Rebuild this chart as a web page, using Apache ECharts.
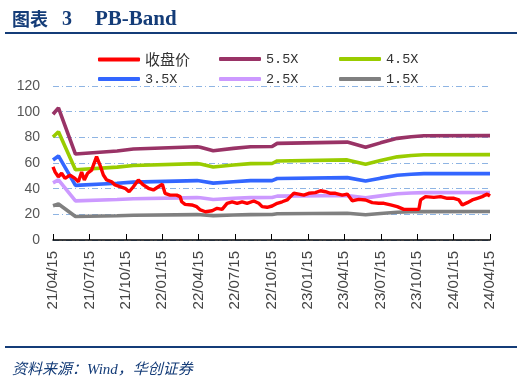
<!DOCTYPE html>
<html><head><meta charset="utf-8">
<script src="https://cdn.jsdelivr.net/npm/echarts@6/dist/echarts.min.js"></script>
<style>html,body{margin:0;padding:0;background:#fff}#c{width:524px;height:381px}</style>
</head><body><div id="c"></div>
<script>
// x positions are months since 2021-04-15
const tickLabels = ['21/04/15','21/07/15','21/10/15','22/01/15','22/04/15','22/07/15','22/10/15','23/01/15','23/04/15','23/07/15','23/10/15','24/01/15','24/04/15'];
const seriesNames = ['收盘价','5.5X','4.5X','3.5X','2.5X','1.5X'];

const priceMonths = [0,0.16,0.44,0.71,0.99,1.40,1.81,2.09,2.36,2.58,2.85,3.18,3.59,3.87,4.15,4.42,4.83,5.11,5.52,5.94,6.27,6.62,7.03,7.44,7.86,8.27,8.68,9.01,9.23,9.65,10.19,10.47,10.60,10.88,11.43,11.84,12.14,12.56,13.11,13.52,13.93,14.34,14.76,15.17,15.58,15.99,16.54,16.95,17.23,17.64,18.05,18.47,18.88,19.29,19.56,19.84,20.25,20.66,21.07,21.62,22.04,22.45,22.86,23.27,23.83,24.24,24.65,25.19,25.75,26.30,26.84,27.26,27.81,28.36,28.90,29.46,30.14,30.28,30.69,31.38,31.93,32.48,33.03,33.44,33.72,34.13,34.54,34.95,35.36,35.77,36];
const priceValues = [57,53.2,49.3,52,48,50.6,48,45.4,53,46.8,52,54.5,65,58.4,50.6,46.8,45.4,42.9,41.5,40.3,37.6,41.5,46.8,42.9,40.3,39,41.5,43.4,36.4,35,35,33.8,29.8,27.8,27.3,26,23.4,22,22.8,24.7,23.9,28.6,29.8,28.6,29.8,28.6,30.4,28.6,26,25.5,26.5,28.6,29.8,31.2,33.8,36.4,35.8,35,36.4,36.9,38.4,37.6,36.4,36.4,35,35.8,30.6,31.7,31.2,29.1,28.6,28.6,27.3,26,23.9,23.9,23.9,31.2,33.8,33.2,33.8,32.5,32.5,31.2,27.3,29.1,31.2,32.5,33.8,35.8,34.3];

const bandMonths = [0,0.45,1.85,5.28,6.62,11.87,12.14,13.2,14.86,16.27,18.05,18.47,24.24,25.75,26.98,28.36,29.5,30.55,36];
const band55 = [98,103,67,69.4,70.9,72.7,72.3,69.6,71.4,72.7,72.8,75.3,76.3,72.2,75.7,79.2,80.5,81.2,81.3];
const band45 = [80.2,84.3,54.8,56.8,58.0,59.5,59.2,56.9,58.4,59.5,59.6,61.6,62.4,59.1,61.9,64.8,65.9,66.4,66.5];
const band35 = [62.4,65.5,42.6,44.2,45.1,46.3,46.0,44.3,45.4,46.3,46.3,47.9,48.6,45.9,48.2,50.4,51.2,51.7,51.7];
const band25 = [44.5,46.8,30.5,31.5,32.2,33.0,32.9,31.6,32.5,33.0,33.1,34.2,34.7,32.8,34.4,36.0,36.6,36.9,37.0];
const band15 = [26.7,28.1,18.3,18.9,19.3,19.8,19.7,19.0,19.5,19.8,19.9,20.5,20.8,19.7,20.6,21.6,22.0,22.1,22.2];

const colors = ['#FF0000','#993366','#99CC00','#3366FF','#CC99FF','#808080'];
const navy = '#143C78';

const zip = (xs, ys) => xs.map((x, i) => [x, ys[i]]);
const bands = [band55, band45, band35, band25, band15];

const series = [{
  name: seriesNames[0], type: 'line', data: zip(priceMonths, priceValues),
  showSymbol: false, z: 5, lineStyle: {width: 3.4, color: colors[0]}, itemStyle: {color: colors[0]}
}].concat(bands.map((b, i) => ({
  name: seriesNames[i + 1], type: 'line', data: zip(bandMonths, b),
  showSymbol: false, z: 2, lineStyle: {width: 3.6, color: colors[i + 1]}, itemStyle: {color: colors[i + 1]}
})));

const legendLefts = [98, 219, 339];
const legends = seriesNames.map((name, i) => ({
  icon: 'roundRect', itemWidth: 42, itemHeight: 4, itemGap: 0, padding: 0,
  left: legendLefts[i % 3], top: i < 3 ? 52 : 72, data: [name],
  textStyle: i === 0
    ? {fontFamily: 'Noto Sans CJK SC', fontSize: 15, color: '#333'}
    : {fontFamily: 'Liberation Mono', fontSize: 13.5, color: '#333'}
}));

const chart = echarts.init(document.getElementById('c'), null, {renderer: 'canvas'});
chart.setOption({
  animation: false,
  backgroundColor: '#fff',
  color: colors,
  title: [{
    text: '{a|图表}{c|3}{b|PB-Band}', left: 7, top: 4,
    textStyle: {rich: {
      a: {fontFamily: 'Noto Sans CJK SC', fontWeight: 'bold', fontSize: 18, color: navy, width: 50},
      c: {fontFamily: 'Liberation Serif', fontWeight: 'bold', fontSize: 20, color: navy, width: 33},
      b: {fontFamily: 'Liberation Serif', fontWeight: 'bold', fontSize: 21, color: navy}
    }}
  }, {
    text: '资料来源：Wind，华创证券', left: 7, top: 358,
    textStyle: {fontFamily: 'Liberation Serif, Noto Sans CJK SC', fontStyle: 'italic', fontWeight: 'normal', fontSize: 15, color: navy}
  }],
  graphic: [
    {type: 'rect', shape: {x: 5, y: 32, width: 512, height: 2}, style: {fill: navy}},
    {type: 'rect', shape: {x: 5, y: 346, width: 512, height: 2}, style: {fill: navy}}
  ],
  legend: legends,
  grid: {left: 53, right: 34, top: 86, bottom: 141},
  xAxis: {
    type: 'value', min: 0, max: 36, interval: 3,
    axisLine: {show: true, lineStyle: {color: '#000', width: 1.5}},
    axisTick: {show: true, inside: true, length: 6, lineStyle: {color: '#000'}},
    splitLine: {show: false},
    axisLabel: {
      rotate: 90, margin: 11, fontSize: 15, color: '#444', fontFamily: 'Liberation Sans',
      showMaxLabel: true, showMinLabel: true,
      formatter: v => tickLabels[Math.round(v / 3)] || ''
    }
  },
  yAxis: {
    type: 'value', min: 0, max: 120, interval: 20,
    axisLine: {show: false}, axisTick: {show: false},
    axisLabel: {fontSize: 14, color: '#555', fontFamily: 'Liberation Sans', margin: 13},
    splitLine: {show: true, lineStyle: {color: '#8EB4E3', width: 1, type: [6, 3, 1, 3]}}
  },
  series: series
});
</script></body></html>
